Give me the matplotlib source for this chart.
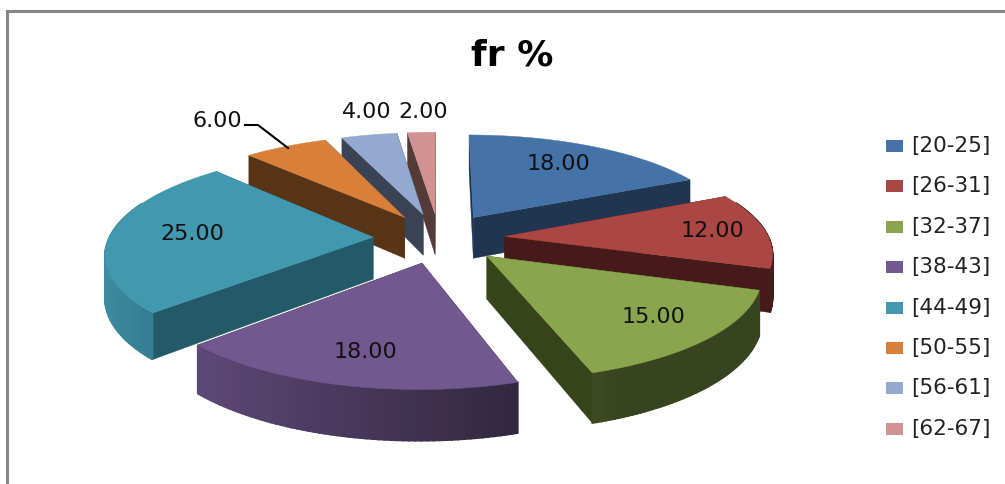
import numpy as np
import matplotlib
matplotlib.use("Agg")
import matplotlib.pyplot as plt
from matplotlib.patches import Polygon, Rectangle

# dados do grafico
faixas = ["[20-25]", "[26-31]", "[32-37]", "[38-43]", "[44-49]", "[50-55]", "[56-61]", "[62-67]"]
fr = [18, 12, 15, 18, 25, 6, 4, 2]
titulo = "fr %"

cores = ["#4572A7", "#AA4643", "#89A54E", "#71588F", "#4198AF", "#D8803A", "#93A9CF", "#D19392"]
cores_lado = ["#1F3550", "#451A18", "#374319", "#2F2541", "#245A68", "#573416", "#3A4255", "#553A3A"]

# posicao dos rotulos (pixels)
pos_rotulos = [(558, 164), (712, 231), (653, 317), (365, 352), (192, 234), (217, 121), (367, 112), (423, 112)]

# projecao em perspectiva da pizza 3D
CX, CY = 439, 238
A, B = 264, 100
K = 0.145
H = 42
EXPLODE = 0.25


def projetar(x, y, z=0.0):
    f = 1 / (1 + K * y)
    return CX + A * x * f, CY - B * y * f - H * z * f


def clarear(cor, s):
    return tuple(np.array(matplotlib.colors.to_rgb(cor)) * s)


fig = plt.figure(figsize=(10.05, 4.84), dpi=100)
ax = fig.add_axes([0, 0, 1, 1])
ax.set_xlim(0, 1005)
ax.set_ylim(484, 0)
ax.axis("off")

# borda do grafico
ax.plot([7, 7, 1005], [484, 11, 11], color="#868686", lw=2.2, solid_joinstyle="miter")

total = sum(fr)
limites = np.cumsum([0] + fr) / total * 2 * np.pi
fatias = []
for i in range(len(fr)):
    t0, t1 = limites[i], limites[i + 1]
    meio = (t0 + t1) / 2
    ox, oy = EXPLODE * np.sin(meio), EXPLODE * np.cos(meio)
    fatias.append((oy, i, t0, t1, ox))

# desenha de tras para frente
for oy, i, t0, t1, ox in sorted(fatias, key=lambda s: -s[0]):
    ang = np.linspace(t0, t1, 60)
    xs = ox + np.sin(ang)
    ys = oy + np.cos(ang)

    # faces radiais
    for t, xa, ya in ((t0, xs[0], ys[0]), (t1, xs[-1], ys[-1])):
        face = [projetar(ox, oy), projetar(xa, ya), projetar(xa, ya, -1), projetar(ox, oy, -1)]
        ax.add_patch(Polygon(face, closed=True, facecolor=cores_lado[i], edgecolor=cores_lado[i], lw=0.3))

    # lateral curva, com sombreado
    for j in range(len(ang) - 1):
        if np.cos((ang[j] + ang[j + 1]) / 2) > 0.35:
            continue
        sombra = max(0.41, 0.56 - 0.37 * np.sin(ang[j]))
        c = clarear(cores[i], sombra)
        quad = [projetar(xs[j], ys[j]), projetar(xs[j + 1], ys[j + 1]),
                projetar(xs[j + 1], ys[j + 1], -1), projetar(xs[j], ys[j], -1)]
        ax.add_patch(Polygon(quad, closed=True, facecolor=c, edgecolor=c, lw=1.2))

    # tampa
    topo = [projetar(ox, oy)] + [projetar(x, y) for x, y in zip(xs, ys)]
    ax.add_patch(Polygon(topo, closed=True, facecolor=cores[i], edgecolor=cores[i], lw=0.3))

# rotulos
for v, (x, y) in zip(fr, pos_rotulos):
    ax.text(x, y, f"{v:.2f}", ha="center", va="center", fontsize=16, color="#111111")

# linha de chamada do 6.00
ax.plot([245, 258, 288], [125, 125, 148], color="black", lw=1.5)

ax.text(512, 56, titulo, ha="center", va="center", fontsize=26, fontweight="bold", color="black")

# legenda
for i, nome in enumerate(faixas):
    y = 146 + i * 40.4
    ax.add_patch(Rectangle((886, y - 6), 17, 12, facecolor=cores[i], edgecolor="none"))
    ax.text(911, y, nome, ha="left", va="center", fontsize=15.5, color="#222222")

fig.savefig("out.png", dpi=100)
